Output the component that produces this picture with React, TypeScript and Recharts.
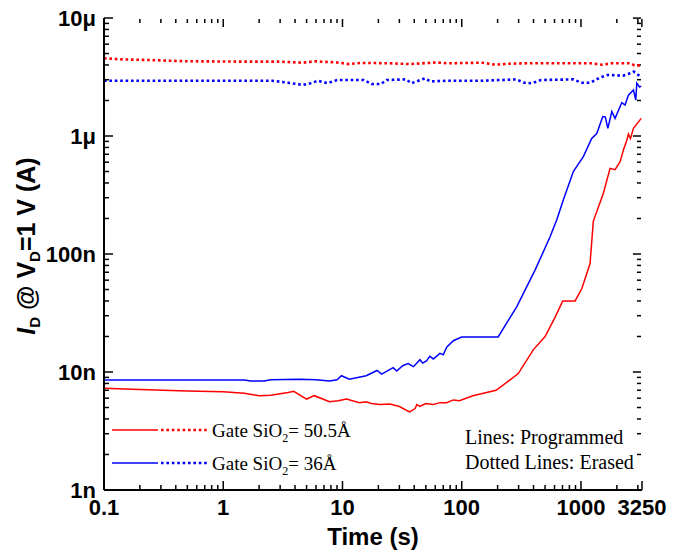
import React from 'react';
import { LineChart, Line, XAxis, YAxis, Legend, Label, ReferenceLine } from 'recharts';

// time (s), drain current (A)
const redErased: number[][] = [
  [0.1, 4.55e-6], [0.15, 4.45e-6], [0.23, 4.41e-6], [0.48, 4.3e-6], [1.4, 4.27e-6],
  [3, 4.27e-6], [4.66, 4.18e-6], [5.8, 4.3e-6], [7, 4.25e-6], [9, 4.2e-6],
  [11.3, 4.07e-6], [14, 4.15e-6], [18.8, 4.15e-6], [25, 4.13e-6], [36.6, 4.07e-6],
  [45, 4.12e-6], [61, 4.2e-6], [76, 4.13e-6], [100, 4.15e-6], [150, 4.18e-6],
  [191, 4.02e-6], [248, 4.1e-6], [350, 4.13e-6], [517, 4.13e-6], [800, 4.13e-6],
  [1200, 4.13e-6], [1503, 4.02e-6], [1806, 4.13e-6], [2300, 4.13e-6], [2610, 4.13e-6],
  [2807, 3.97e-6], [3100, 3.97e-6], [3250, 4.0e-6],
];

const blueErased: number[][] = [
  [0.1, 2.94e-6], [1, 2.94e-6], [2.58, 2.94e-6], [3.47, 2.83e-6], [4.66, 2.71e-6],
  [5.4, 2.8e-6], [6.25, 2.94e-6], [7.5, 2.8e-6], [9, 2.98e-6], [15.1, 2.98e-6],
  [17.5, 2.76e-6], [21, 2.76e-6], [23.5, 2.98e-6], [34, 3.02e-6], [37.9, 2.8e-6],
  [49.1, 3.08e-6], [54.8, 2.9e-6], [76, 2.94e-6], [150, 2.94e-6], [287, 3.02e-6],
  [333, 2.83e-6], [385, 2.8e-6], [463, 2.98e-6], [865, 3.02e-6], [1005, 2.83e-6],
  [1206, 2.83e-6], [1449, 3.14e-6], [1680, 3.29e-6], [2254, 3.25e-6], [2610, 3.4e-6],
  [2767, 3.51e-6], [3020, 3.29e-6], [3250, 3.15e-6],
];

const redProgrammed: number[][] = [
  [0.1, 7.28e-9], [0.2, 7.1e-9], [0.5, 6.9e-9], [1, 6.8e-9], [1.5, 6.6e-9],
  [2.0, 6.3e-9], [2.5, 6.35e-9], [3.5, 6.7e-9], [3.9, 6.85e-9], [5.0, 5.9e-9],
  [5.8, 6.3e-9], [7.8, 5.6e-9], [9.2, 5.7e-9], [10.8, 5.9e-9], [13.9, 5.5e-9],
  [15.8, 5.6e-9], [17.5, 5.4e-9], [20.6, 5.3e-9], [25, 5.35e-9], [30, 5.1e-9],
  [36.5, 4.6e-9], [40.7, 4.9e-9], [42, 5.3e-9], [44.6, 5.1e-9], [50, 5.4e-9],
  [57.7, 5.3e-9], [66, 5.5e-9], [74.8, 5.5e-9], [85, 5.8e-9], [95.6, 5.7e-9],
  [124, 6.3e-9], [194, 7.0e-9], [251, 8.5e-9], [298, 9.7e-9], [398, 15.4e-9],
  [500, 20e-9], [606, 29e-9], [703, 40e-9], [893, 40e-9], [1017, 51e-9],
  [1192, 83e-9], [1270, 190e-9], [1542, 327e-9], [1754, 532e-9], [1932, 518e-9],
  [2129, 605e-9], [2270, 760e-9], [2427, 925e-9], [2500, 1.04e-6], [2600, 0.95e-6],
  [2754, 1.16e-6], [3200, 1.41e-6],
];

const blueProgrammed: number[][] = [
  [0.1, 8.55e-9], [1.5, 8.55e-9], [1.7, 8.4e-9], [2.2, 8.4e-9], [2.5, 8.6e-9],
  [4.4, 8.67e-9], [6, 8.6e-9], [7.8, 8.4e-9], [9.0, 8.6e-9], [9.8, 9.3e-9],
  [11.4, 8.7e-9], [15.8, 9.3e-9], [19.5, 10.3e-9], [21.3, 9.6e-9], [26.6, 10.9e-9],
  [28.5, 10.2e-9], [32, 11.3e-9], [35.5, 11.8e-9], [39.4, 11.1e-9], [44.6, 12.7e-9],
  [47, 11.9e-9], [50.6, 12.4e-9], [54, 13.6e-9], [57.7, 12.9e-9], [60, 13.3e-9],
  [65.6, 14.4e-9], [70, 14.0e-9], [74.8, 16.2e-9], [85, 18.4e-9], [99.8, 19.8e-9],
  [202, 19.8e-9], [289, 35.7e-9], [412, 73e-9], [551, 140e-9], [587, 165e-9],
  [626, 194e-9], [711, 287e-9], [863, 499e-9], [1047, 668e-9], [1230, 955e-9],
  [1357, 1.05e-6], [1524, 1.46e-6], [1600, 1.45e-6], [1680, 1.16e-6], [1815, 1.61e-6],
  [1932, 1.41e-6], [2201, 1.92e-6], [2344, 1.83e-6], [2500, 2.22e-6], [2754, 2.45e-6],
  [2884, 2.02e-6], [2938, 2.8e-6], [3100, 2.6e-6], [3200, 2.65e-6],
];

const xMajor = [0.1, 1, 10, 100, 1000, 3250];
const xMajorLabels = ['0.1', '1', '10', '100', '1000', '3250'];
const xMinorExtra = [2000, 3000];
const yMajor = [1e-9, 1e-8, 1e-7, 1e-6, 1e-5];
const yMajorLabels = ['1n', '10n', '100n', '1μ', '10μ'];

const legendItems = [
  { color: '#ff0000', name: '50.5Å' },
  { color: '#0000ff', name: '36Å' },
];
const notes = ['Lines: Programmed', 'Dotted Lines: Erased'];

const X_MIN = 0.1;
const X_MAX = 3250;
const Y_MIN = 1e-9;
const Y_MAX = 1e-5;
const EDGE = 1.02;

// plot box (from the chart margins / axis sizes below)
const W = 693;
const H = 555;
const PLOT = { left: 104, right: 642, top: 18, bottom: 490 };

const toPoints = (rows: number[][]) => rows.map(([t, v]) => ({ t, v }));

const xTicks = [...xMajor];
[0.1, 1, 10, 100].forEach((d) => {
  for (let k = 2; k <= 9; k++) xTicks.push(d * k);
});
xTicks.push(...xMinorExtra);
xTicks.sort((a, b) => a - b);

const yTicks: number[] = [...yMajor];
[1e-9, 1e-8, 1e-7, 1e-6].forEach((d) => {
  for (let k = 2; k <= 9; k++) yTicks.push(d * k);
});
yTicks.sort((a, b) => a - b);

const majorIndex = (v: number, majors: number[]) =>
  majors.findIndex((m) => Math.abs(v / m - 1) < 1e-6);

const MINOR_LEN = 5;
const MAJOR_LEN = 9;
const minorDec = MINOR_LEN / 118;
const majorDec = MAJOR_LEN / 118;
const tickFactor = (v: number, majors: number[]) =>
  Math.pow(10, majorIndex(v, majors) >= 0 ? majorDec : minorDec);
const inside = (v: number, lo: number, hi: number) =>
  Math.min(hi / 1.002, Math.max(lo * 1.002, v));

// log mapping for the tick marks on the left and bottom frame edges
const logPos = (v: number, lo: number, hi: number, a: number, b: number) =>
  a + ((Math.log10(v) - Math.log10(lo)) / (Math.log10(hi) - Math.log10(lo))) * (b - a);

const sans = '"Liberation Sans", Arial, sans-serif';
const serif = '"Liberation Serif", "Times New Roman", serif';
const tickText = { fontFamily: sans, fontWeight: 700, fontSize: 22, fill: '#000' };

const BottomTick = (props: any) => {
  const { x, y, payload } = props;
  const i = majorIndex(payload.value, xMajor);
  if (i < 0) return <g />;
  return (
    <text x={x} y={y + 25} textAnchor="middle" {...tickText}>
      {xMajorLabels[i]}
    </text>
  );
};

const LeftTick = (props: any) => {
  const { x, y, payload } = props;
  const i = majorIndex(payload.value, yMajor);
  if (i < 0) return <g />;
  return (
    <text x={x - 8} y={y} dy="0.36em" textAnchor="end" {...tickText}>
      {yMajorLabels[i]}
    </text>
  );
};

const YTitle = (props: any) => {
  const vb = props.viewBox || { x: 0, y: 18, width: 104, height: 472 };
  const cx = vb.x + 35;
  const cy = vb.y + vb.height / 2 - 8;
  return (
    <text
      x={cx}
      y={cy}
      transform={`rotate(-90 ${cx} ${cy})`}
      textAnchor="middle"
      fontFamily={sans}
      fontWeight={700}
      fontSize={25}
      fill="#000"
    >
      <tspan fontStyle="italic">I</tspan>
      <tspan fontSize={15} dy={5}>D</tspan>
      <tspan dy={-5}> @ V</tspan>
      <tspan fontSize={15} dy={5}>D</tspan>
      <tspan dy={-5}>=1 V (A)</tspan>
    </text>
  );
};

const XTitle = (props: any) => {
  const vb = props.viewBox || { x: 104, y: 490, width: 538, height: 65 };
  return (
    <text
      x={vb.x + vb.width / 2}
      y={vb.y + 55}
      textAnchor="middle"
      fontFamily={sans}
      fontWeight={700}
      fontSize={24}
      fill="#000"
    >
      Time (s)
    </text>
  );
};

const LegendBox = () => (
  <svg width={W} height={H} style={{ position: 'absolute', left: 0, top: 0 }}>
    {xTicks.map((t) => {
      const x = logPos(t, X_MIN, X_MAX, PLOT.left, PLOT.right);
      const len = majorIndex(t, xMajor) >= 0 ? MAJOR_LEN : MINOR_LEN;
      return (
        <line key={`bx${t}`} x1={x} y1={PLOT.bottom} x2={x} y2={PLOT.bottom - len} stroke="#000" strokeWidth={1.5} />
      );
    })}
    {yTicks.map((v) => {
      const y = logPos(v, Y_MIN, Y_MAX, PLOT.bottom, PLOT.top);
      const len = majorIndex(v, yMajor) >= 0 ? MAJOR_LEN : MINOR_LEN;
      return (
        <line key={`ly${v}`} x1={PLOT.left} y1={y} x2={PLOT.left + len} y2={y} stroke="#000" strokeWidth={1.5} />
      );
    })}
    {legendItems.map((it, i) => {
      const y = 430 + i * 33;
      return (
        <g key={it.name}>
          <line x1={112} y1={y} x2={158} y2={y} stroke={it.color} strokeWidth={1.5} />
          <line
            x1={161}
            y1={y}
            x2={207}
            y2={y}
            stroke={it.color}
            strokeWidth={2.6}
            strokeDasharray="2.6 2.8"
          />
          <text x={212} y={y + 7} fontFamily={serif} fontSize={19} fill="#000">
            Gate SiO
            <tspan fontSize={12} dy={5}>2</tspan>
            <tspan dy={-5}>= {it.name}</tspan>
          </text>
        </g>
      );
    })}
    {notes.map((n, i) => (
      <text key={n} x={465} y={444 + i * 25} fontFamily={serif} fontSize={20} fill="#000">
        {n}
      </text>
    ))}
  </svg>
);

const series = [
  { key: 'redErased', data: toPoints(redErased), color: '#ff0000', dotted: true },
  { key: 'blueErased', data: toPoints(blueErased), color: '#0000ff', dotted: true },
  { key: 'redProgrammed', data: toPoints(redProgrammed), color: '#ff0000', dotted: false },
  { key: 'blueProgrammed', data: toPoints(blueProgrammed), color: '#0000ff', dotted: false },
];

const axisLine = { stroke: '#000', strokeWidth: 2 };
const tickMark = { stroke: '#000', strokeWidth: 1.5, ifOverflow: 'visible' as const };

export default function App() {
  return (
    <div style={{ position: 'absolute', left: 0, top: 0, width: W, height: H, background: '#fff' }}>
      <LineChart
        width={W}
        height={H}
        margin={{ top: PLOT.top, right: W - PLOT.right, bottom: 0, left: 0 }}
      >
        <XAxis
          dataKey="t"
          type="number"
          scale="log"
          domain={[X_MIN, X_MAX]}
          allowDataOverflow
          ticks={xTicks}
          interval={0}
          tickLine={false}
          tickSize={0}
          tickMargin={0}
          tick={<BottomTick />}
          axisLine={axisLine}
          height={H - PLOT.bottom}
        >
          <Label content={<XTitle />} />
        </XAxis>
        <XAxis
          xAxisId="top"
          orientation="top"
          type="number"
          scale="log"
          domain={[X_MIN, X_MAX]}
          allowDataOverflow
          ticks={xTicks}
          tick={false}
          tickLine={false}
          axisLine={axisLine}
          height={0}
        />
        <YAxis
          type="number"
          scale="log"
          domain={[Y_MIN, Y_MAX]}
          allowDataOverflow
          ticks={yTicks}
          interval={0}
          tickLine={false}
          tickSize={0}
          tickMargin={0}
          tick={<LeftTick />}
          axisLine={axisLine}
          width={PLOT.left}
        >
          <Label content={<YTitle />} />
        </YAxis>
        <YAxis
          yAxisId="right"
          orientation="right"
          type="number"
          scale="log"
          domain={[Y_MIN, Y_MAX]}
          allowDataOverflow
          ticks={yTicks}
          tick={false}
          tickLine={false}
          axisLine={axisLine}
          width={0}
        />
        {xTicks.map((t) => {
          const tx = inside(t, X_MIN, X_MAX);
          return (
            <ReferenceLine
              key={`t${t}`}
              segment={[{ x: tx, y: Y_MAX / tickFactor(t, xMajor) }, { x: tx, y: Y_MAX / EDGE }]}
              {...tickMark}
            />
          );
        })}
        {yTicks.map((v) => {
          const vy = inside(v, Y_MIN, Y_MAX);
          return (
            <ReferenceLine
              key={`r${v}`}
              segment={[{ x: X_MAX / tickFactor(v, yMajor), y: vy }, { x: X_MAX / EDGE, y: vy }]}
              {...tickMark}
            />
          );
        })}
        {series.map((s) => (
          <Line
            key={s.key}
            data={s.data}
            dataKey="v"
            type="linear"
            stroke={s.color}
            strokeWidth={s.dotted ? 2.6 : 1.5}
            strokeDasharray={s.dotted ? '2.6 2.8' : undefined}
            dot={false}
            activeDot={false}
            isAnimationActive={false}
          />
        ))}
        <Legend
          content={<LegendBox />}
          layout="vertical"
          align="center"
          verticalAlign="middle"
          wrapperStyle={{ left: 0, top: 0, width: W, height: H, pointerEvents: 'none' }}
        />
      </LineChart>
    </div>
  );
}
